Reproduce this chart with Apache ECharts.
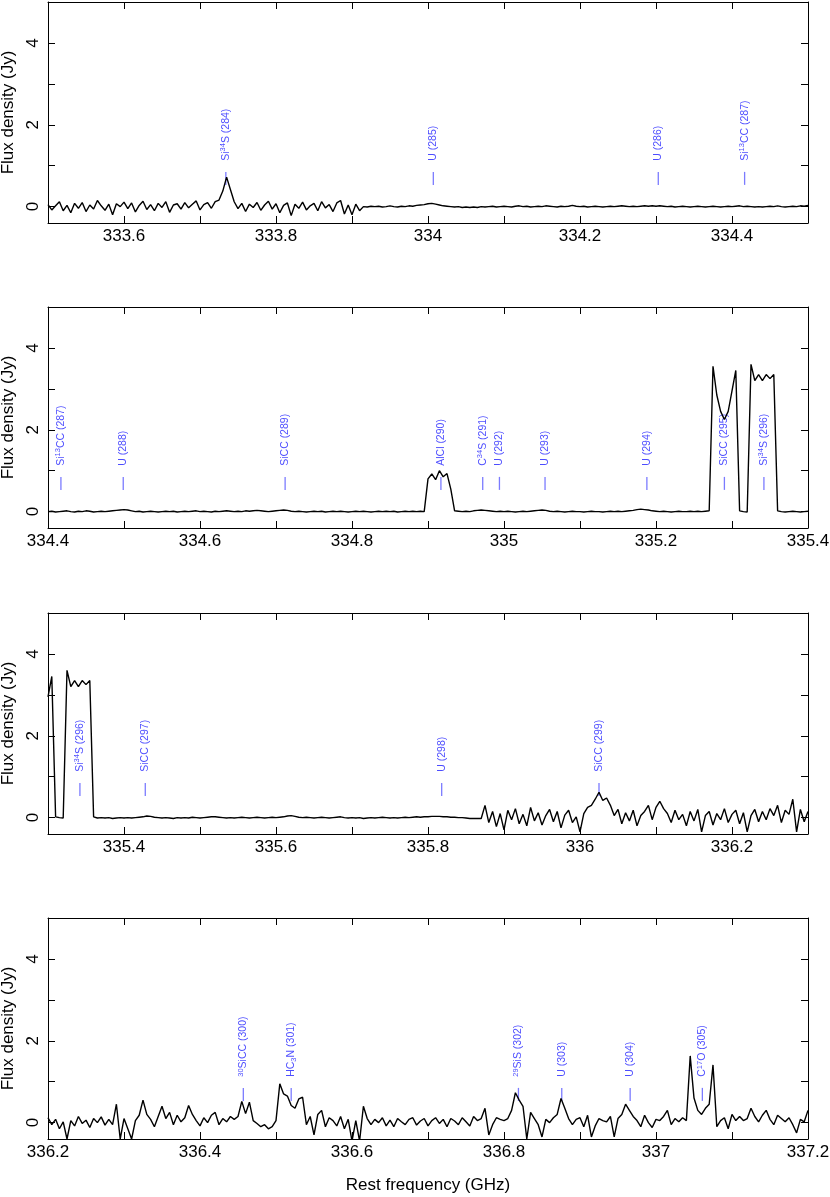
<!DOCTYPE html>
<html>
<head>
<meta charset="utf-8">
<script src="https://cdn.jsdelivr.net/npm/echarts@6.0.0/dist/echarts.min.js"></script>
<style>
html,body{margin:0;padding:0;background:#fff;}
#chart{width:830px;height:1197px;}
</style>
</head>
<body>
<div id="chart"></div>
<script>
// ---------- DATA ----------
const CHANNEL = 0.005; // GHz per channel
const panelStart = [333.5, 334.4, 335.3, 336.2];
const panelEnd   = [334.5, 335.4, 336.3, 337.2];

// Flux density (Jy) per channel, starting at panelStart
const flux1 = [
 0.05,-0.08,0.02,0.12,-0.10,0.03,-0.15,0.08,-0.04,0.10,
 -0.12,0.04,-0.06,0.15,0.02,-0.09,0.06,-0.20,0.07,0.00,
 0.11,-0.05,0.09,-0.13,0.03,0.13,-0.07,0.05,-0.10,0.08,
 -0.02,0.12,-0.14,0.04,0.07,-0.06,0.10,-0.03,0.06,0.14,
 -0.08,0.05,0.10,-0.04,0.12,0.16,0.38,0.72,0.42,0.12,
 -0.05,0.08,-0.12,0.06,-0.02,0.10,-0.09,0.04,0.13,-0.06,
 0.07,-0.15,0.03,0.09,-0.22,0.06,-0.04,0.11,-0.08,0.02,
 0.08,-0.10,0.12,-0.03,0.05,-0.12,0.09,0.15,-0.18,0.04,
 -0.20,0.06,-0.10,0.00,-0.01,0.01,0.00,0.01,-0.01,0.00,
 0.02,0.00,-0.01,0.01,0.00,0.02,0.01,0.03,0.04,0.05,
 0.07,0.08,0.06,0.04,0.02,0.01,0.00,-0.01,0.00,-0.02,
 -0.01,-0.02,-0.01,-0.02,0.00,-0.01,0.00,0.01,-0.01,0.00,
 0.01,0.00,-0.01,0.01,0.02,0.00,0.01,-0.01,0.00,0.01,
 0.00,0.02,0.01,0.00,-0.01,0.01,0.00,0.01,0.03,0.01,
 0.00,0.01,-0.01,0.00,0.01,0.00,-0.01,0.00,0.01,0.00,
 0.01,0.02,0.01,0.00,0.01,0.00,0.01,0.02,0.01,0.02,
 0.01,0.02,0.01,0.00,0.01,-0.01,0.00,0.01,0.00,-0.01,
 0.00,0.01,0.00,-0.01,0.00,0.01,0.00,-0.01,0.00,0.01,
 0.00,0.01,0.02,0.00,0.01,0.00,-0.01,0.00,-0.01,0.00,
 0.01,0.00,0.02,0.00,-0.01,0.00,0.01,0.00,0.02,0.01,
 0.03
];
const flux2 = [
 0.00,0.01,-0.01,0.00,0.01,0.02,0.00,-0.01,0.01,0.00,
 0.02,0.01,-0.01,0.00,0.01,0.00,0.01,0.02,0.03,0.04,
 0.05,0.04,0.02,0.00,0.01,-0.01,0.00,0.01,0.00,-0.01,
 0.00,0.01,0.00,0.01,-0.01,0.00,0.01,0.00,0.01,0.02,
 0.00,0.01,0.00,-0.01,0.01,0.00,0.01,0.02,0.01,0.00,
 0.01,0.00,0.02,0.01,0.02,0.03,0.02,0.01,0.00,0.01,
 0.02,0.03,0.04,0.03,0.01,0.00,0.01,0.00,-0.01,0.00,
 0.01,0.00,0.01,-0.01,0.00,0.01,0.00,0.01,0.00,-0.01,
 0.00,0.01,0.00,0.01,0.00,-0.01,0.00,0.01,0.00,0.01,
 0.00,0.01,-0.01,0.00,0.01,0.00,0.01,0.00,0.01,0.00,
 0.80,0.92,0.78,1.00,0.85,0.93,0.55,0.02,0.01,0.00,
 0.01,0.00,0.02,0.03,0.04,0.03,0.02,0.01,0.00,0.01,
 0.00,0.01,0.00,-0.01,0.00,0.01,0.00,0.01,0.02,0.03,
 0.04,0.03,0.01,0.00,0.01,0.00,-0.01,0.00,0.01,0.00,
 0.00,-0.01,0.00,0.01,0.00,0.00,-0.01,0.00,0.01,0.00,
 0.01,0.00,0.01,0.02,0.03,0.05,0.06,0.05,0.04,0.02,
 0.01,0.00,0.01,0.00,-0.01,0.00,0.01,0.00,0.00,0.01,
 0.00,0.01,0.00,0.01,0.02,3.55,2.85,2.45,2.25,2.45,
 2.95,3.45,0.02,0.00,-0.01,3.60,3.20,3.35,3.20,3.35,
 3.25,3.35,0.02,0.00,-0.01,0.00,0.01,0.00,-0.01,0.00,
 0.01
];
const flux3 = [
 2.95,3.45,0.02,0.00,-0.01,3.60,3.20,3.35,3.20,3.35,
 3.25,3.35,0.02,-0.01,0.00,-0.01,0.00,-0.02,-0.01,0.00,
 -0.01,0.00,-0.01,0.00,0.01,0.02,0.04,0.03,0.01,0.00,
 -0.01,0.00,-0.01,-0.02,0.00,-0.01,0.00,-0.01,0.01,0.00,
 -0.01,0.00,0.01,0.02,0.02,0.01,0.00,-0.01,0.00,-0.01,
 0.00,0.01,0.00,-0.01,0.00,0.01,0.00,-0.01,0.00,0.01,
 0.00,0.01,0.02,0.04,0.05,0.03,0.01,0.00,0.01,0.00,
 -0.01,0.00,0.01,0.00,-0.01,0.00,0.01,0.02,0.00,-0.01,
 0.00,-0.01,0.00,-0.02,-0.01,0.00,-0.01,0.00,0.01,0.00,
 -0.01,0.00,-0.01,0.00,0.01,0.00,0.01,0.02,0.01,0.02,
 0.02,0.03,0.03,0.03,0.02,0.02,0.01,0.01,0.00,0.00,
 -0.01,-0.02,-0.02,-0.02,-0.02,0.30,-0.12,0.15,-0.22,0.10,
 -0.30,0.18,-0.05,0.22,-0.15,0.08,-0.20,0.25,-0.08,0.12,
 -0.18,0.05,0.20,-0.10,0.15,-0.25,0.06,0.18,-0.12,0.02,
 -0.35,0.10,0.25,0.30,0.45,0.62,0.42,0.48,0.30,0.05,
 0.20,-0.15,0.12,-0.08,0.18,-0.20,0.05,0.15,0.30,-0.05,
 0.25,0.40,0.22,0.10,-0.12,0.18,-0.05,0.08,-0.20,0.15,
 -0.08,0.20,-0.35,0.05,0.15,-0.18,0.10,-0.05,0.22,-0.12,
 0.08,0.18,-0.15,0.12,-0.35,0.05,0.20,-0.10,0.15,-0.05,
 0.22,0.05,0.30,-0.12,0.18,0.08,0.45,-0.35,0.20,-0.10,
 0.15
];
const flux4 = [
 0.12,-0.05,0.08,-0.15,0.02,-0.40,0.05,-0.08,0.15,-0.02,
 0.06,-0.12,0.10,0.00,0.14,-0.06,0.08,-0.05,0.45,-0.40,
 0.10,-0.15,-0.40,0.05,0.18,0.55,0.20,0.08,-0.10,0.15,
 0.40,0.10,0.25,-0.05,0.18,0.02,0.12,0.42,0.20,0.05,
 -0.08,0.12,0.00,0.18,0.25,-0.05,0.10,0.02,0.15,0.08,
 0.15,0.52,0.22,0.50,0.05,-0.02,-0.10,-0.05,-0.15,-0.10,
 0.05,0.95,0.70,0.65,0.42,0.35,0.58,0.62,-0.05,0.15,
 -0.30,0.20,0.30,-0.10,0.12,0.05,-0.08,0.15,-0.15,0.08,
 -0.45,0.05,-0.45,0.40,0.10,-0.05,0.08,0.00,0.12,-0.08,
 0.06,-0.10,0.10,0.02,-0.05,0.08,0.12,-0.06,0.04,0.10,
 -0.08,0.05,0.12,-0.02,0.08,-0.10,0.10,0.04,-0.05,0.12,
 0.02,-0.08,0.15,0.05,0.10,0.35,-0.30,-0.05,0.12,0.08,
 0.05,0.10,0.30,0.73,0.55,0.40,-0.40,0.25,0.10,-0.05,
 -0.35,0.08,0.00,0.12,0.20,0.59,0.35,0.10,-0.05,0.08,
 0.12,-0.10,0.18,-0.35,-0.08,0.10,0.05,0.02,0.15,-0.35,
 0.10,0.20,0.45,0.30,0.15,0.05,-0.10,0.18,0.00,-0.12,
 0.08,0.05,0.15,0.30,-0.05,0.10,0.02,0.12,0.05,1.63,
 0.60,0.30,0.20,0.35,0.45,1.41,-0.10,0.05,0.12,-0.15,
 0.20,0.05,0.15,0.05,0.10,0.35,0.15,0.02,0.18,0.30,
 0.08,-0.05,0.18,0.10,0.02,0.12,-0.05,-0.25,0.08,0.02,
 0.30
];

// Line identifications (rest frequency GHz, label)
const lineFreq1 = [333.734, 334.007, 334.303, 334.4166];
const lineName1 = ['Si{sup|34}S (284)', 'U (285)', 'U (286)', 'Si{sup|13}CC (287)'];
const lineFreq2 = [334.417, 334.499, 334.712, 334.917, 334.972, 334.994, 335.054, 335.188, 335.290, 335.342];
const lineName2 = ['Si{sup|13}CC (287)', 'U (288)', 'SiCC (289)', 'AlCl (290)', 'C{sup|34}S (291)', 'U (292)', 'U (293)', 'U (294)', 'SiCC (295)', 'Si{sup|34}S (296)'];
const lineFreq3 = [335.342, 335.428, 335.818, 336.025];
const lineName3 = ['Si{sup|34}S (296)', 'SiCC (297)', 'U (298)', 'SiCC (299)'];
const lineFreq4 = [336.457, 336.520, 336.819, 336.876, 336.966, 337.061];
const lineName4 = ['{sup|30}SiCC (300)', 'HC{sub|3}N (301)', '{sup|29}SiS (302)', 'U (303)', 'U (304)', 'C{sup|17}O (305)'];

const yTicks = [0, 1, 2, 3, 4];
const yTickLabels = [0, 2, 4];

// ---------- BUILD ----------
const fluxes = [flux1, flux2, flux3, flux4];
const lineFreqs = [lineFreq1, lineFreq2, lineFreq3, lineFreq4];
const lineNames = [lineName1, lineName2, lineName3, lineName4];

const FONT = "'Liberation Sans', Arial, Helvetica, sans-serif";
const TOPS = [2, 307, 613, 918];
const GRID_H = 221;
const LABEL_Y = 1.12;
const BAR_Y = 0.69;
const BLUE = '#2020ff';
const BAR_BLUE = '#5a5aff';

const grid = [], xAxis = [], yAxis = [], series = [];

for (let k = 0; k < 4; k++) {
  grid.push({left: 48, width: 760, top: TOPS[k], height: GRID_H, show: false,
             containLabel: false, outerBoundsMode: 'none'});
  const xCommon = {
    gridIndex: k, type: 'value', min: panelStart[k], max: panelEnd[k], interval: 0.1,
    axisLine: {show: true, onZero: false, lineStyle: {color: '#000', width: 1}},
    axisTick: {show: true, inside: true, length: 7, lineStyle: {color: '#000', width: 1}},
    splitLine: {show: false}
  };
  xAxis.push(Object.assign({}, xCommon, {
    position: 'bottom',
    axisLabel: {
      show: true, margin: 5, fontSize: 17, fontFamily: FONT, color: '#000',
      showMinLabel: true, showMaxLabel: true,
      formatter: v => (Math.round(v * 10) % 2 === 0) ? String(Math.round(v * 10) / 10) : ''
    },
    name: k === 3 ? 'Rest frequency (GHz)' : '',
    nameLocation: 'middle', nameGap: 38,
    nameTextStyle: {fontSize: 17, fontFamily: FONT, color: '#000'}
  }));
  xAxis.push(Object.assign({}, xCommon, {position: 'top', axisLabel: {show: false}}));

  const yCommon = {
    gridIndex: k, type: 'value', min: -0.4, max: 5,
    axisLine: {show: true, onZero: false, lineStyle: {color: '#000', width: 1}},
    axisTick: {show: true, inside: true, length: 7, customValues: yTicks, lineStyle: {color: '#000', width: 1}},
    splitLine: {show: false}
  };
  yAxis.push(Object.assign({}, yCommon, {
    position: 'left',
    axisLabel: {show: true, customValues: yTickLabels, rotate: 90, margin: 6, fontSize: 17, fontFamily: FONT, color: '#000'},
    name: 'Flux density (Jy)', nameLocation: 'middle', nameGap: 30, nameRotate: 90,
    nameTextStyle: {fontSize: 17, fontFamily: FONT, color: '#000'}
  }));
  yAxis.push(Object.assign({}, yCommon, {position: 'right', axisLabel: {show: false}}));

  // identification bars
  series.push({
    type: 'scatter', xAxisIndex: 2 * k, yAxisIndex: 2 * k, silent: true,
    symbol: 'rect', symbolSize: [1.3, 13],
    itemStyle: {color: BAR_BLUE},
    data: lineFreqs[k].map(f => [f, BAR_Y]),
    z: 2
  });
  // identification labels
  series.push({
    type: 'scatter', xAxisIndex: 2 * k, yAxisIndex: 2 * k, silent: true,
    symbol: 'circle', symbolSize: 1,
    itemStyle: {color: 'rgba(0,0,0,0)'},
    data: lineFreqs[k].map((f, j) => [f, LABEL_Y, lineNames[k][j]]),
    label: {
      show: true, position: 'inside', rotate: 90, align: 'left', verticalAlign: 'middle',
      formatter: p => p.data[2],
      fontSize: 10.5, fontFamily: FONT, color: BLUE, lineHeight: 13,
      rich: {
        sup: {fontSize: 7.5, fontFamily: FONT, color: BLUE, verticalAlign: 'top', lineHeight: 8},
        sub: {fontSize: 7.5, fontFamily: FONT, color: BLUE, verticalAlign: 'bottom', lineHeight: 8}
      }
    },
    z: 3
  });
  // spectrum
  series.push({
    type: 'line', xAxisIndex: 2 * k, yAxisIndex: 2 * k, silent: true,
    symbol: 'none', clip: true,
    lineStyle: {color: '#000', width: 1.4},
    data: fluxes[k].map((v, i) => [panelStart[k] + i * CHANNEL, v]),
    z: 4
  });
}

const chart = echarts.init(document.getElementById('chart'), null, {renderer: 'canvas'});
chart.setOption({
  animation: false,
  backgroundColor: '#fff',
  grid, xAxis, yAxis, series
});
</script>
</body>
</html>
